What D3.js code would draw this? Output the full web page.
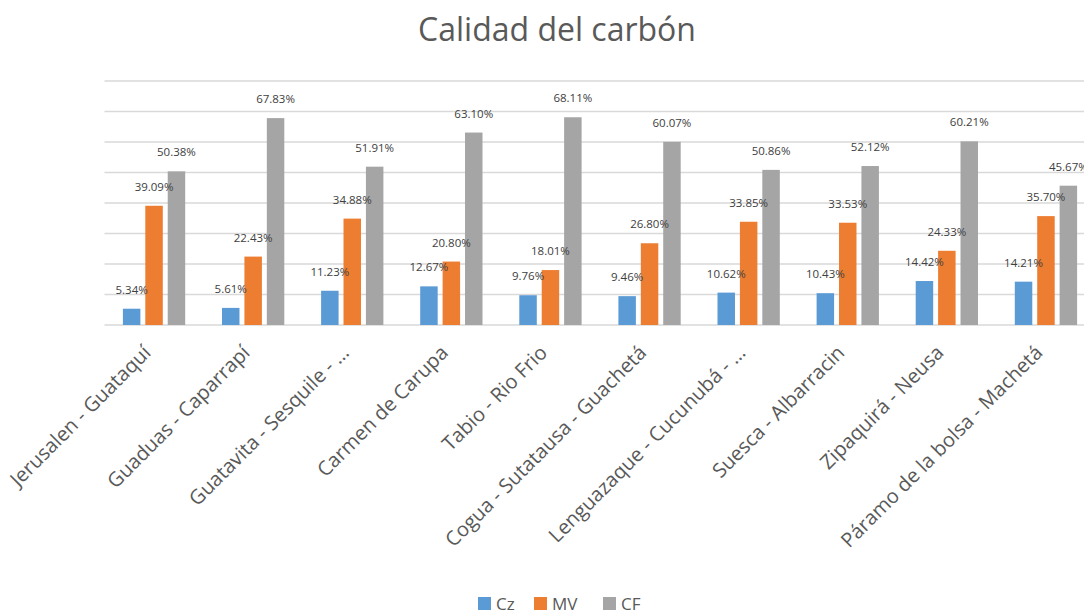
<!DOCTYPE html>
<html>
<head>
<meta charset="utf-8">
<script src="https://cdn.jsdelivr.net/npm/d3@7"></script>
<style>
  body { margin: 0; background: #fff; }
  svg { font-family: "Open Sans", sans-serif; }
</style>
</head>
<body>
<svg></svg>
<script>
let categories = [
    'Jerusalen - Guataquí',
    'Guaduas - Caparrapí',
    'Guatavita - Sesquile - …',
    'Carmen de Carupa',
    'Tabio - Rio Frio',
    'Cogua - Sutatausa - Guachetá',
    'Lenguazaque - Cucunubá - …',
    'Suesca - Albarracin',
    'Zipaquirá - Neusa',
    'Páramo de la bolsa - Machetá'
]
let seriesNames = ['Cz', 'MV', 'CF']
let cz = [5.34, 5.61, 11.23, 12.67, 9.76, 9.46, 10.62, 10.43, 14.42, 14.21]
let mv = [39.09, 22.43, 34.88, 20.80, 18.01, 26.80, 33.85, 33.53, 24.33, 35.70]
let cf = [50.38, 67.83, 51.91, 63.10, 68.11, 60.07, 50.86, 52.12, 60.21, 45.67]
let gridTicks = [0, 10, 20, 30, 40, 50, 60, 70, 80]
let colors = ['#5b9bd5', '#ed7d31', '#a5a5a5']

let width = 1084
let height = 615
let plotLeft = 104.5
let plotRight = 1095.5
let plotTop = 81
let plotBottom = 325

let svg = d3.select('svg')
    .attr('width', width)
    .attr('height', height)

let seriesValues = [cz, mv, cf]
let rows = []
categories.forEach((c, i) => {
    seriesNames.forEach((s, j) => {
        rows.push({ cat: c, series: s, value: seriesValues[j][i], color: colors[j] })
    })
})

let xScale = d3.scaleBand()
    .domain(categories)
    .range([plotLeft, plotRight])

let inner = 62.3
let xInner = d3.scaleBand()
    .domain(seriesNames)
    .range([0, inner])
    .paddingInner(0.22)

let yScale = d3.scaleLinear()
    .domain([0, 80])
    .range([plotBottom, plotTop])

// title
svg.append('text')
    .attr('x', 557)
    .attr('y', 41)
    .attr('text-anchor', 'middle')
    .style('font-size', '32px')
    .style('fill', '#595959')
    .text('Calidad del carbón')

// gridlines
svg.append('g')
    .selectAll('line')
    .data(gridTicks)
    .enter()
    .append('line')
    .attr('x1', plotLeft)
    .attr('x2', plotRight)
    .attr('y1', d => yScale(d))
    .attr('y2', d => yScale(d))
    .attr('stroke', '#d9d9d9')
    .attr('stroke-width', 1.3)

let offset = (xScale.bandwidth() - inner) / 2

// bars
svg.append('g')
    .selectAll('rect')
    .data(rows)
    .enter()
    .append('rect')
    .attr('x', d => xScale(d.cat) + offset + xInner(d.series))
    .attr('y', d => yScale(d.value))
    .attr('width', xInner.bandwidth())
    .attr('height', d => yScale(0) - yScale(d.value))
    .attr('fill', d => d.color)

// value labels
svg.append('g')
    .selectAll('text')
    .data(rows)
    .enter()
    .append('text')
    .attr('x', d => xScale(d.cat) + offset + xInner(d.series) + xInner.bandwidth() / 2)
    .attr('y', d => yScale(d.value) - 15)
    .attr('text-anchor', 'middle')
    .style('font-size', '11.5px')
    .style('fill', '#404040')
    .text(d => d.value.toFixed(2) + '%')

// x axis labels
let xAxis = d3.axisBottom(xScale).tickSize(0).tickPadding(0)
let gx = svg.append('g')
    .attr('transform', 'translate(0,' + plotBottom + ')')
    .call(xAxis)
gx.select('.domain').remove()
gx.selectAll('text')
    .attr('y', 0)
    .attr('dy', 0)
    .attr('transform', 'translate(-2,29) rotate(-45)')
    .attr('text-anchor', 'end')
    .style('font-family', '"Open Sans", sans-serif')
    .style('font-size', '20px')
    .style('fill', '#595959')

// legend
let legendX = [478, 534, 603]
let legend = svg.append('g')
    .selectAll('g')
    .data(seriesNames)
    .enter()
    .append('g')
    .attr('transform', (d, i) => 'translate(' + legendX[i] + ',597)')
legend.append('rect')
    .attr('width', 13)
    .attr('height', 13)
    .attr('fill', (d, i) => colors[i])
legend.append('text')
    .attr('x', 18)
    .attr('y', 13)
    .style('font-size', '17px')
    .style('fill', '#595959')
    .text(d => d)
</script>
</body>
</html>
